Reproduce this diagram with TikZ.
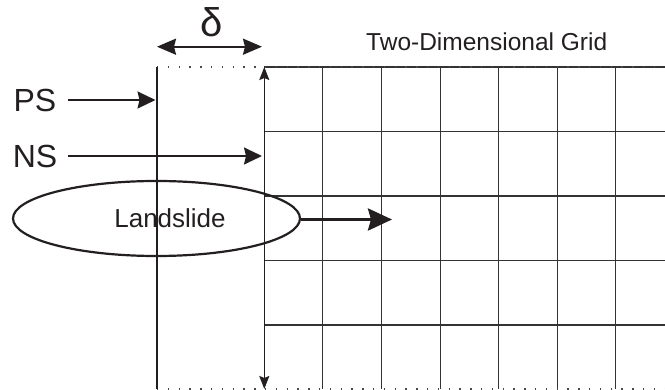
\documentclass[tikz,border=0pt]{standalone}
\usepackage{fontspec}
\setmainfont{Liberation Sans}
\usetikzlibrary{arrows.meta,positioning,shapes.geometric}
\definecolor{ink}{HTML}{231F20}
\definecolor{gridline}{HTML}{333333}
\definecolor{dotline}{HTML}{4A4A4A}
\tikzset{
  every node/.style={text=ink, inner sep=0pt},
  lab/.style={font=\fontsize{32}{32}\selectfont},
  title/.style={font=\fontsize{24.5}{24.5}\selectfont},
  flow/.style={-{Stealth[length=18pt,width=17pt,inset=2pt]}, draw=ink, line width=1.8pt, shorten <=11pt},
  push/.style={-{Stealth[length=24pt,width=22pt,inset=3pt]}, draw=ink, line width=3.2pt},
  span/.style={{Stealth[length=19pt,width=16pt,inset=2pt]}-{Stealth[length=19pt,width=16pt,inset=2pt]}, draw=ink, line width=2.2pt},
  edge/.style={{Stealth[length=13pt,width=10pt,inset=2pt]}-{Stealth[length=13pt,width=10pt,inset=2pt]}, draw=ink, line width=1.5pt},
  cell/.style={draw=gridline, line width=1.1pt},
  border/.style={draw=dotline, line width=1.3pt, dash pattern=on 1.4pt off 9.4pt},
  slide/.style={ellipse, draw=ink, line width=2.2pt, minimum width=287pt, minimum height=75pt},
}

\begin{document}
\begin{tikzpicture}[x=1pt,y=-1pt]
\useasboundingbox (0,0) rectangle (665,390);

% grid geometry
\def\gx{264.3}  % left edge of the grid
\def\gw{58.6}   % column width
\def\gh{64.5}   % row height
\def\gt{67}     % top
\def\gb{389}    % bottom

% ================= two-dimensional grid =================
\draw[cell] (\gx,\gt) -- (665,\gt);
\foreach \i in {1,...,6}
  \draw[cell] (\gx+\i*\gw,\gt) -- (\gx+\i*\gw,\gb);
\foreach \j in {1,...,4}
  \draw[cell] (\gx,\gt+\j*\gh) -- (665,\gt+\j*\gh);
\draw[border] (157,\gt) -- (665,\gt);
\draw[border] (157,\gb) -- (665,\gb);

\node[title] (grid) at (486.7,41.7) {Two-Dimensional Grid};

% ================= boundaries =================
\coordinate (ps-top) at (157,\gt);
\coordinate (ps-bot) at (157,\gb);
\draw[ink, line width=1.8pt] (ps-top) -- (ps-bot);

\coordinate (ns-top) at (\gx,\gt);
\coordinate (ns-bot) at (\gx,\gb);
\draw[edge] (ns-top) -- (ns-bot);

% width of the strip
\node[lab, font=\fontsize{40}{40}\selectfont] (delta) at (212,22) {δ};
\coordinate (d-left) at (157,46.7);
\coordinate (d-right) at (262,46.7);
\draw[span] (d-left) -- (d-right);

% ================= labels and arrows =================
\node[lab] (ps) at (35,100) {PS};
\coordinate (ps-hit) at (155.5,100);
\draw[flow] (ps.east) -- (ps-hit);

\node[lab] (ns) at (35,156) {NS};
\coordinate (ns-hit) at (262,156);
\draw[flow] (ns.east) -- (ns-hit);

\node[slide, label={[font=\fontsize{26}{26}\selectfont, xshift=13.5pt]center:Landslide}] (slide) at (156.5,218.5) {};
\coordinate (slide-hit) at (392,219.5);
\draw[push] (slide.east |- slide-hit) -- (slide-hit);

\end{tikzpicture}
\end{document}
